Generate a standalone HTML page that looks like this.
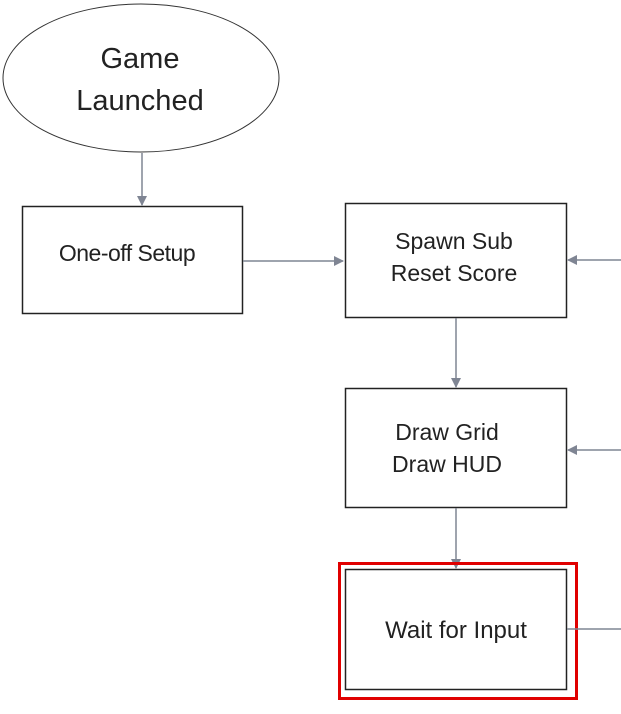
<!DOCTYPE html>
<html><head><style>
body{margin:0;background:#fff;width:621px;height:709px;overflow:hidden}
text{font-family:"Liberation Sans",sans-serif;fill:#222}
</style></head><body>
<svg width="621" height="709" xmlns="http://www.w3.org/2000/svg">
<defs><marker id="a" markerWidth="10" markerHeight="10" refX="9" refY="5" orient="auto" markerUnits="userSpaceOnUse"><path d="M0,0 L10,5 L0,10 z" fill="#7f8593"/></marker></defs>
<ellipse cx="141" cy="78" rx="138" ry="74" fill="#fff" stroke="#333" stroke-width="1"/>
<text x="140" y="68" font-size="29" text-anchor="middle">Game</text>
<text x="140" y="110" font-size="29" text-anchor="middle">Launched</text>
<line x1="142" y1="153" x2="142" y2="205" stroke="#7f8593" stroke-width="1.5" marker-end="url(#a)"/>
<rect x="22.5" y="206.5" width="220" height="107" fill="#fff" stroke="#222" stroke-width="1.5"/>
<text x="127" y="261" font-size="23" text-anchor="middle" letter-spacing="-0.5">One-off Setup</text>
<line x1="243" y1="261" x2="343" y2="261" stroke="#7f8593" stroke-width="1.5" marker-end="url(#a)"/>
<rect x="345.5" y="203.5" width="221" height="114" fill="#fff" stroke="#222" stroke-width="1.5"/>
<text x="454" y="249" font-size="23" text-anchor="middle">Spawn Sub</text>
<text x="454" y="281" font-size="23" text-anchor="middle">Reset Score</text>
<line x1="621" y1="260" x2="568" y2="260" stroke="#7f8593" stroke-width="1.5" marker-end="url(#a)"/>
<line x1="456" y1="318" x2="456" y2="387" stroke="#7f8593" stroke-width="1.5" marker-end="url(#a)"/>
<rect x="345.5" y="388.5" width="221" height="119" fill="#fff" stroke="#222" stroke-width="1.5"/>
<text x="447" y="440" font-size="23" text-anchor="middle">Draw Grid</text>
<text x="447" y="472" font-size="23" text-anchor="middle">Draw HUD</text>
<line x1="621" y1="450" x2="568" y2="450" stroke="#7f8593" stroke-width="1.5" marker-end="url(#a)"/>
<line x1="456" y1="508" x2="456" y2="568" stroke="#7f8593" stroke-width="1.5" marker-end="url(#a)"/>
<rect x="339.5" y="563.5" width="237" height="135" fill="none" stroke="#e00000" stroke-width="3"/>
<rect x="345.5" y="569.5" width="221" height="120" fill="#fff" stroke="#222" stroke-width="1.5"/>
<text x="456" y="638" font-size="24" text-anchor="middle">Wait for Input</text>
<line x1="567" y1="629" x2="621" y2="629" stroke="#7f8593" stroke-width="1.5"/>
</svg>
</body></html>
